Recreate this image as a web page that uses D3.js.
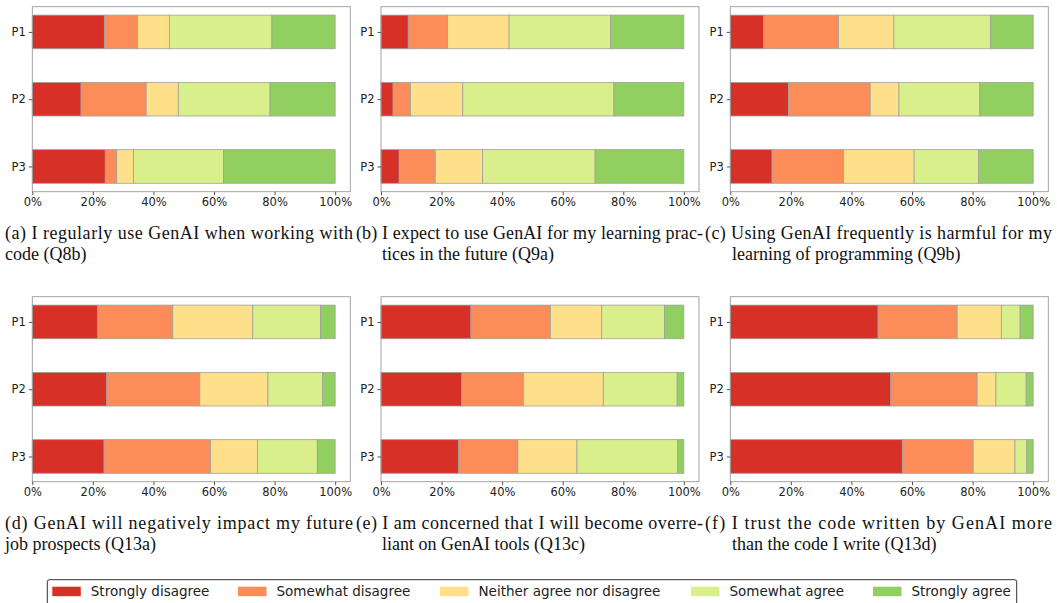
<!DOCTYPE html>
<html>
<head>
<meta charset="utf-8">
<script src="https://cdn.jsdelivr.net/npm/d3@7"></script>
<style>
  body { margin: 0; background: #fff; }
  svg { display: block; }
</style>
</head>
<body>
<svg id="chart" width="1057" height="603"></svg>
<script>
// answer categories and colours
var answers = ["Strongly disagree", "Somewhat disagree", "Neither agree nor disagree", "Somewhat agree", "Strongly agree"];
var colours = ["#d73027", "#fc8d59", "#fee08b", "#d9ef8b", "#91cf60"];
var groups = ["P1", "P2", "P3"];
var xTicks = [0, 20, 40, 60, 80, 100];

// percentages per group (P1, P2, P3)
var q8b  = [[23.8, 10.9, 10.6, 33.8, 20.9], [16.1, 21.5, 10.6, 30.3, 21.5], [24.1, 3.8, 5.5, 29.7, 36.9]];
var q9a  = [[9.0, 13.0, 20.3, 33.5, 24.2], [4.0, 5.7, 17.3, 49.9, 23.1], [6.0, 11.9, 15.6, 37.2, 29.3]];
var q9b  = [[11.0, 24.7, 18.3, 32.0, 14.0], [19.2, 27.0, 9.5, 26.7, 17.6], [13.8, 23.6, 23.3, 21.3, 18.0]];
var q13a = [[21.6, 24.8, 26.4, 22.4, 4.8], [24.6, 30.7, 22.5, 18.1, 4.1], [23.7, 35.2, 15.5, 19.7, 5.9]];
var q13c = [[29.7, 26.2, 17.0, 20.7, 6.4], [26.7, 20.3, 26.4, 24.4, 2.2], [25.6, 19.6, 19.5, 33.3, 2.0]];
var q13d = [[48.8, 26.1, 14.6, 6.2, 4.3], [53.0, 28.5, 6.2, 10.0, 2.3], [56.8, 23.4, 13.8, 3.9, 2.1]];

var captions = [
  ["(a) I regularly use GenAI when working with", "code (Q8b)"],
  ["(b) I expect to use GenAI for my learning prac-", "tices in the future (Q9a)"],
  ["(c) Using GenAI frequently is harmful for my", "learning of programming (Q9b)"],
  ["(d) GenAI will negatively impact my future", "job prospects (Q13a)"],
  ["(e) I am concerned that I will become overre-", "liant on GenAI tools (Q13c)"],
  ["(f) I trust the code written by GenAI more", "than the code I write (Q13d)"]
];

var panels = [q8b, q9a, q9b, q13a, q13c, q13d];

var svg = d3.select("#chart");
var colX = [32.3, 381, 730.3];
var rowY = [6.7, 296.7];
var plotW = 318, plotH = 185;
var capX1 = [5, 356, 705], capX2 = [5, 382, 732], capW = [348, 347, 347];

panels.forEach(function (data, p) {
  var col = p % 3, row = Math.floor(p / 3);
  var x0 = colX[col], y0 = rowY[row];
  var x = d3.scaleLinear().domain([0, 105]).range([x0, x0 + plotW]);
  var y = d3.scaleLinear().domain([-0.375, 2.375]).range([y0, y0 + plotH]);

  var g = svg.append("g");

  // stacked segments
  data.forEach(function (vals, i) {
    var cum = 0;
    vals.forEach(function (v, k) {
      g.append("rect")
        .attr("x", x(cum))
        .attr("y", y(i - 0.25))
        .attr("width", x(cum + v) - x(cum))
        .attr("height", y(i + 0.25) - y(i - 0.25))
        .attr("fill", colours[k])
        .attr("stroke", "#a0a0a0")
        .attr("stroke-width", 0.8);
      cum += v;
    });
  });

  // frame
  g.append("rect")
    .attr("x", x0).attr("y", y0)
    .attr("width", plotW).attr("height", plotH)
    .attr("fill", "none").attr("stroke", "#9a9a9a").attr("stroke-width", 0.9);

  var xAxis = g.append("g")
    .attr("transform", "translate(0," + (y0 + plotH) + ")")
    .call(d3.axisBottom(x).tickValues(xTicks).tickFormat(function (d) { return d + "%"; }).tickSize(3.5).tickPadding(2.5));
  var yAxis = g.append("g")
    .attr("transform", "translate(" + x0 + ",0)")
    .call(d3.axisLeft(y).tickValues([0, 1, 2]).tickFormat(function (d) { return groups[d]; }).tickSize(3.5).tickPadding(3));
  [xAxis, yAxis].forEach(function (a) {
    a.select(".domain").remove();
    a.selectAll("line").attr("stroke", "#555");
    a.selectAll("text").attr("font-family", "DejaVu Sans").attr("font-size", 11.5).attr("fill", "#222");
  });

  // caption
  var cy = y0 + plotH + 47;
  g.append("text")
    .attr("x", capX1[col]).attr("y", cy)
    .attr("textLength", capW[col]).attr("lengthAdjust", "spacing")
    .attr("font-family", "Liberation Serif").attr("font-size", 18).attr("fill", "#111")
    .text(captions[p][0]);
  g.append("text")
    .attr("x", capX2[col]).attr("y", cy + 21.5)
    .attr("font-family", "Liberation Serif").attr("font-size", 18).attr("fill", "#111")
    .text(captions[p][1]);
});

// legend
var legend = svg.append("g");
legend.append("rect")
  .attr("x", 47.3).attr("y", 579.7).attr("width", 969.4).attr("height", 30)
  .attr("rx", 2).attr("fill", "#fff").attr("stroke", "#333").attr("stroke-width", 1);
var legX = [52.3, 238, 440, 691, 873];
answers.forEach(function (a, k) {
  legend.append("rect")
    .attr("x", legX[k]).attr("y", 586.7).attr("width", 28.5).attr("height", 9.5)
    .attr("fill", colours[k]);
  legend.append("text")
    .attr("x", legX[k] + 38.5).attr("y", 596)
    .attr("font-family", "DejaVu Sans").attr("font-size", 13.5).attr("fill", "#222")
    .text(a);
});
</script>
</body>
</html>
